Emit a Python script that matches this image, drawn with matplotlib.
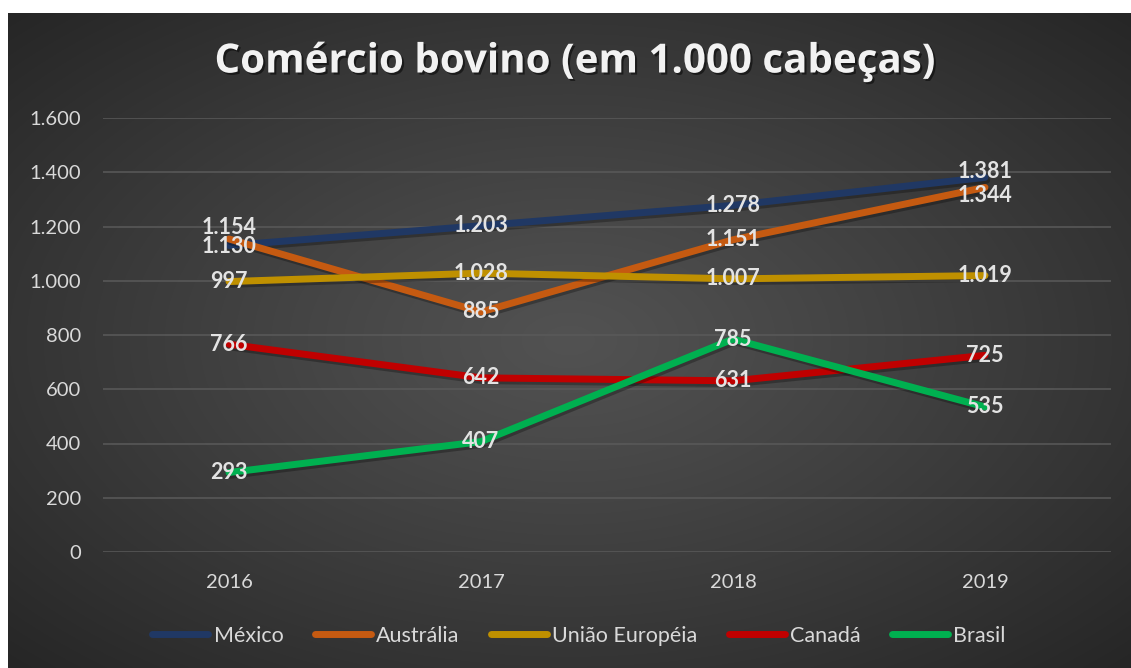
import numpy as np
import matplotlib
matplotlib.use("Agg")
import matplotlib.pyplot as plt
import matplotlib.patheffects as pe
from matplotlib.ticker import FuncFormatter

# ---- data ----
years = ["2016", "2017", "2018", "2019"]
mexico = [1130, 1203, 1278, 1381]
australia = [1154, 885, 1151, 1344]
uniao_europeia = [997, 1028, 1007, 1019]
canada = [766, 642, 631, 725]
brasil = [293, 407, 785, 535]

series_names = ["México", "Austrália", "União Européia", "Canadá", "Brasil"]
series_values = [mexico, australia, uniao_europeia, canada, brasil]
series_colors = ["#203864", "#C55A11", "#BF9000", "#C00000", "#00B050"]
title = "Comércio bovino (em 1.000 cabeças)"
yticks = [0, 200, 400, 600, 800, 1000, 1200, 1400, 1600]

# manual label nudges (points) for overlapping labels: (series index, year index) -> dy
label_nudge = {(1, 0): 8, (0, 0): -1, (0, 3): 4.5, (1, 3): -5.5}

W, H = 1131, 668
fig = plt.figure(figsize=(W / 100, H / 100), dpi=100)
fig.patch.set_facecolor("white")

# background radial gradient (chart area)
bx0, by1 = 8, 13
bg = fig.add_axes([bx0 / W, 0, 1 - bx0 / W, (H - by1) / H])
bg.set_axis_off()
gx = np.linspace(-1, 1, 600)
gy = np.linspace(-1, 1, 400)
GX, GY = np.meshgrid(gx, gy)
R = np.sqrt(GX ** 2 + GY ** 2) / np.sqrt(2)
c_in, c_out = 0x52, 0x26
val = (c_in + (c_out - c_in) * np.clip(R, 0, 1) ** 1.1) / 255.0
img = np.dstack([val, val, val])
bg.imshow(img, aspect="auto", extent=[0, 1, 0, 1], interpolation="bilinear")
bg.set_xlim(0, 1)
bg.set_ylim(0, 1)

# main axes
left, right = 103 / W, 1111 / W
bottom, top = (H - 552) / H, (H - 118) / H
ax = fig.add_axes([left, bottom, right - left, top - bottom])
ax.patch.set_alpha(0)
for s in ax.spines.values():
    s.set_visible(False)

x = np.arange(len(years))
ax.set_xlim(-0.5, len(years) - 0.5)
ax.set_ylim(0, 1600)
ax.set_yticks(yticks)
ax.yaxis.set_major_formatter(FuncFormatter(lambda v, p: f"{int(v):,}".replace(",", ".")))
ax.set_xticks(x)
ax.set_xticklabels(years)
ax.grid(axis="y", color="#5a5a5a", linewidth=1.1)
ax.set_axisbelow(True)
ax.tick_params(axis="both", length=0, colors="#D9D9D9", labelsize=14.5)
ax.tick_params(axis="y", pad=16)
ax.tick_params(axis="x", pad=16)
for lab in ax.get_xticklabels() + ax.get_yticklabels():
    lab.set_fontfamily("Lato")

shadow = [pe.SimpleLineShadow(offset=(1.2, -2.0), shadow_color="black", alpha=0.28), pe.Normal()]
for i, (name, vals, col) in enumerate(zip(series_names, series_values, series_colors)):
    ax.plot(x, vals, color=col, linewidth=5, label=name,
            solid_capstyle="round", solid_joinstyle="round", path_effects=shadow, zorder=3 + i * 0.1)

for i, vals in enumerate(series_values):
    for j, v in enumerate(vals):
        dy = label_nudge.get((i, j), 0)
        ax.annotate(f"{v:,}".replace(",", "."), (x[j], v), xytext=(0, dy), textcoords="offset points",
                    ha="center", va="center", fontsize=15.5, fontweight="bold", family="Lato",
                    color="#E3E3E3", zorder=10)

fig.text(574 / W, (H - 62) / H, title, ha="center", va="center", fontsize=29,
         fontweight="bold", family="Open Sans", color="#F2F2F2",
         path_effects=[pe.withSimplePatchShadow(offset=(1.5, -1.5), shadow_rgbFace="black", alpha=0.5)])

leg = fig.legend(loc="center", bbox_to_anchor=(579 / W, (H - 636) / H), ncol=5, frameon=False,
                 handlelength=2.6, handletextpad=0.25, columnspacing=1.45,
                 prop={"family": "Lato", "size": 15.5})
for t in leg.get_texts():
    t.set_color("#D9D9D9")
for h in leg.legend_handles:
    h.set_linewidth(5)
    h.set_solid_capstyle("round")
    h.set_path_effects([])

fig.savefig("out.png", dpi=100, facecolor=fig.get_facecolor())
